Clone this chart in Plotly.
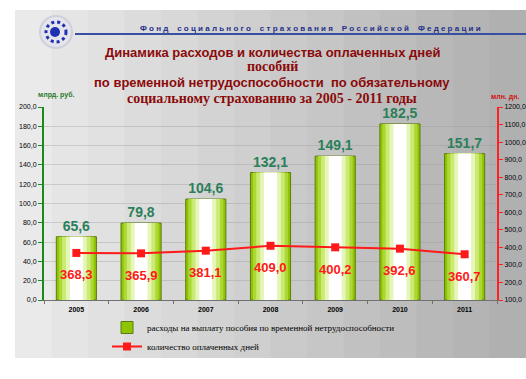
import plotly.graph_objects as go

years = ["2005", "2006", "2007", "2008", "2009", "2010", "2011"]
expenses = [65.6, 79.8, 104.6, 132.1, 149.1, 182.5, 151.7]
days = [368.3, 365.9, 381.1, 409.0, 400.2, 392.6, 360.7]

bar_name = "расходы на выплату пособия по временной нетрудоспособности"
line_name = "количество оплаченных дней"
title_lines = [
    "Динамика расходов и количества оплаченных дней",
    "пособий",
    "по временной нетрудоспособности  по обязательному",
    "социальному страхованию за 2005 - 2011 годы",
]

fig = go.Figure()

# layered bars to imitate the green-white cylinder gradient
layers = [
    (0.62, "#8fc400", True),
    (0.54, "#acd836", False),
    (0.44, "#cbea74", False),
    (0.32, "#e6f5b8", False),
    (0.20, "#ffffff", False),
]
for w, c, first in layers:
    fig.add_trace(go.Bar(
        x=years, y=expenses, width=w, name=bar_name,
        marker=dict(color=c, line=dict(color="#5d7a10" if first else c, width=1 if first else 0)),
        showlegend=first, hoverinfo="skip" if not first else None,
        texttemplate="<b>%{y:.1f}</b>" if first else None,
        textposition="outside" if first else "none",
        textfont=dict(color="#2b7f5a", size=14, family="Liberation Sans"),
        cliponaxis=False,
    ))

fig.add_trace(go.Scatter(
    x=years, y=days, yaxis="y2", name=line_name,
    mode="lines+markers",
    line=dict(color="#ff1a1a", width=2),
    marker=dict(color="#ff1a1a", size=8, symbol="square"),
    cliponaxis=False,
))

L, R, T, B = 44, 497, 107, 300
def px(xp):
    return (xp - L) / (R - L)
def py(yp):
    return (B - yp) / (B - T)

shapes = []
n = 14
for k in range(n):
    g = int(234 - (234 - 176) * k / (n - 1))
    xa = 15 + (526 - 15) * k / n
    xb = 15 + (526 - 15) * (k + 1) / n + 1
    shapes.append(dict(type="rect", xref="paper", yref="paper", layer="below",
                       x0=px(xa), x1=px(xb), y0=py(358), y1=py(10),
                       line=dict(width=0), fillcolor=f"rgb({g},{g},{g})"))
# header line
shapes.append(dict(type="line", xref="paper", yref="paper", x0=px(75), x1=px(526),
                   y0=py(34), y1=py(34), line=dict(color="#3a4fa0", width=2)))
# logo
shapes.append(dict(type="circle", xref="paper", yref="paper",
                   x0=px(40), x1=px(72), y0=py(48), y1=py(16),
                   line=dict(color="#d0d0dc", width=2), fillcolor="#e4e4ec"))
shapes.append(dict(type="circle", xref="paper", yref="paper",
                   x0=px(46), x1=px(66), y0=py(42), y1=py(22),
                   line=dict(color="#2030b0", width=3, dash="dot"), fillcolor="rgba(0,0,0,0)"))
shapes.append(dict(type="circle", xref="paper", yref="paper",
                   x0=px(50), x1=px(60), y0=py(37), y1=py(27),
                   line=dict(width=0), fillcolor="#2030b0"))

header = "Фонд социального страхования Российской Федерации"
header_spaced = "    ".join(" ".join(word) for word in header.split(" "))

annotations = [
    dict(text=f"<b>{header_spaced}</b>",
         x=px(310), y=py(28), xref="paper", yref="paper", showarrow=False,
         xanchor="center", yanchor="middle",
         font=dict(color="#23308a", size=8, family="Liberation Sans")),
    dict(text="<b>млрд. руб.</b>", x=px(56), y=py(95), xref="paper", yref="paper",
         xanchor="center", yanchor="middle",
         showarrow=False, font=dict(color="#2a7a2a", size=7, family="Liberation Sans")),
    dict(text="<b>млн. дн.</b>", x=px(505), y=py(97), xref="paper", yref="paper",
         xanchor="center", yanchor="middle",
         showarrow=False, font=dict(color="#d01010", size=7, family="Liberation Sans")),
]
title_fonts = [("Liberation Sans", 13), ("Liberation Serif", 14),
               ("Liberation Sans", 13), ("Liberation Serif", 14)]
for line, yy, (fam, sz) in zip(title_lines, [52, 67, 82, 98], title_fonts):
    annotations.append(dict(text=f"<b>{line}</b>", x=px(272), y=py(yy),
                            xref="paper", yref="paper", showarrow=False,
                            xanchor="center", yanchor="middle",
                            font=dict(color="#8b0a0a", size=sz, family=fam)))
# line value labels below the markers (x = category index on the category axis)
for i, d in enumerate(days):
    annotations.append(dict(x=i, y=d, xref="x", yref="y2", showarrow=False,
                            text=f"<b>{d:.1f}</b>".replace(".", ","), yshift=-22,
                            font=dict(color="#ff1a1a", size=13, family="Liberation Sans")))

fig.update_layout(
    width=526, height=379,
    margin=dict(l=L, r=526 - R, t=T, b=379 - B, autoexpand=False),
    paper_bgcolor="white", plot_bgcolor="rgba(0,0,0,0)",
    barmode="overlay", separators=", ",
    shapes=shapes, annotations=annotations,
    font=dict(family="Liberation Sans", color="black"),
    xaxis=dict(type="category", range=[-0.5, len(years) - 0.5], showgrid=False,
               ticks="outside", tickson="boundaries",
               ticklen=3, tickcolor="#707070", showline=True,
               linecolor="#707070", tickfont=dict(size=7, weight="bold"),
               ticklabelstandoff=3),
    yaxis=dict(range=[0, 200], dtick=20, tickformat=".1f", showline=True,
               linecolor="#1a8a1a", linewidth=2, ticks="outside", tickcolor="#1a8a1a",
               ticklen=4, tickfont=dict(size=7), gridcolor="rgba(150,150,150,0.35)",
               zeroline=False),
    yaxis2=dict(range=[100, 1200], dtick=100, tickformat=".1f", overlaying="y",
                side="right", showline=True, linecolor="#ff2020", linewidth=2,
                ticks="outside", tickcolor="#ff2020", ticklen=4,
                tickfont=dict(size=7), showgrid=False, zeroline=False),
    legend=dict(x=px(107), y=py(313), xanchor="left", yanchor="top",
                bgcolor="rgba(0,0,0,0)", font=dict(family="Liberation Serif", size=9),
                tracegroupgap=0, itemwidth=30),
    showlegend=True,
)

fig.write_html("out.html", config={"displayModeBar": False},
               post_script="document.body.style.margin='0';")
